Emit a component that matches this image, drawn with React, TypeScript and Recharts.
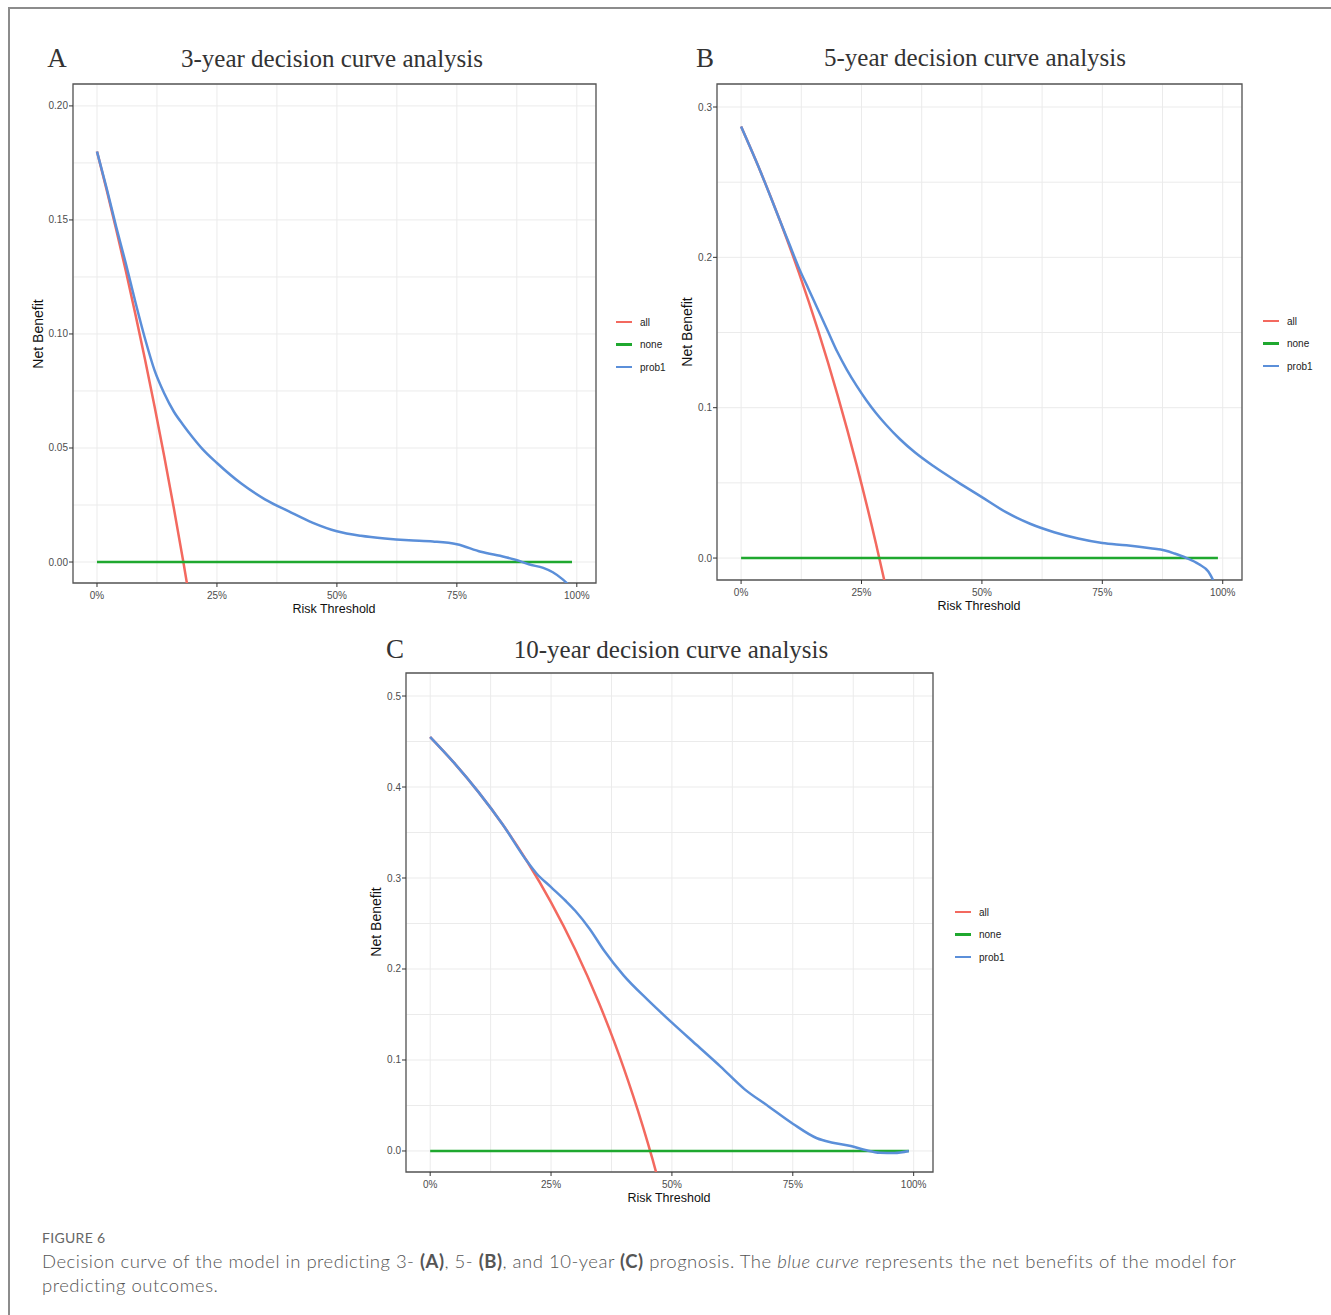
import { LineChart, Line, XAxis, YAxis, CartesianGrid, ReferenceArea } from "recharts";

// shared axis ticks (risk threshold, as fraction)
const xMajor = [0, 0.25, 0.5, 0.75, 1];
const xMinor = [0.125, 0.375, 0.625, 0.875];
const xLabels = ["0%", "25%", "50%", "75%", "100%"];

// "none" strategy
const noneX = [0, 0.99];
const noneY = [0, 0];

// Panel A - 3-year
const aAllX = [0, 0.02, 0.04, 0.06, 0.08, 0.1, 0.12, 0.14, 0.16, 0.18, 0.2];
const aAllY = [0.18, 0.1633, 0.1458, 0.1277, 0.1087, 0.0889, 0.0682, 0.0465, 0.0238, 0.0, -0.025];
const aProbX = [0, 0.02, 0.04, 0.06, 0.08, 0.1, 0.12, 0.14, 0.16, 0.18, 0.2, 0.22, 0.25, 0.3, 0.35, 0.4, 0.45, 0.5, 0.55, 0.6, 0.65, 0.7, 0.75, 0.8, 0.85, 0.88, 0.9, 0.93, 0.95, 0.97, 0.99];
const aProbY = [0.18, 0.164, 0.147, 0.131, 0.114, 0.098, 0.084, 0.074, 0.066, 0.06, 0.0545, 0.0495, 0.0434, 0.0345, 0.0275, 0.0222, 0.0172, 0.0135, 0.0115, 0.0103, 0.0095, 0.009, 0.0078, 0.0045, 0.0022, 0.0005, -0.001, -0.0026, -0.0045, -0.0075, -0.0115];
const aYMajor = [0, 0.05, 0.1, 0.15, 0.2];
const aYMinor = [0.025, 0.075, 0.125, 0.175];
const aYLabels = ["0.00", "0.05", "0.10", "0.15", "0.20"];

// Panel B - 5-year
const bAllX = [0, 0.04, 0.08, 0.12, 0.16, 0.2, 0.24, 0.28, 0.3];
const bAllY = [0.287, 0.2573, 0.225, 0.1898, 0.1512, 0.1087, 0.0618, 0.0097, -0.0186];
const bProbX = [0, 0.04, 0.08, 0.1, 0.12, 0.14, 0.16, 0.18, 0.2, 0.22, 0.24, 0.26, 0.28, 0.3, 0.33, 0.36, 0.4, 0.45, 0.5, 0.55, 0.6, 0.65, 0.7, 0.75, 0.8, 0.85, 0.88, 0.9, 0.925, 0.95, 0.97, 0.98];
const bProbY = [0.287, 0.2573, 0.225, 0.209, 0.193, 0.179, 0.165, 0.151, 0.137, 0.125, 0.1145, 0.105, 0.0965, 0.089, 0.079, 0.0705, 0.061, 0.0505, 0.0405, 0.0305, 0.0228, 0.0172, 0.013, 0.01, 0.0085, 0.0065, 0.005, 0.003, 0.0, -0.004, -0.009, -0.0146];
const bYMajor = [0, 0.1, 0.2, 0.3];
const bYMinor = [0.05, 0.15, 0.25];
const bYLabels = ["0.0", "0.1", "0.2", "0.3"];

// Panel C - 10-year
const cAllX = [0, 0.05, 0.1, 0.15, 0.2, 0.25, 0.3, 0.35, 0.38, 0.4, 0.42, 0.44, 0.46, 0.48];
const cAllY = [0.455, 0.4263, 0.3944, 0.3588, 0.3187, 0.2733, 0.2214, 0.1615, 0.121, 0.0917, 0.0603, 0.0268, -0.0093, -0.0481];
const cProbX = [0, 0.05, 0.1, 0.15, 0.2, 0.22, 0.25, 0.28, 0.3, 0.33, 0.36, 0.4, 0.45, 0.5, 0.55, 0.6, 0.65, 0.7, 0.75, 0.8, 0.83, 0.87, 0.9, 0.93, 0.96, 0.99];
const cProbY = [0.455, 0.4263, 0.3944, 0.3588, 0.3187, 0.305, 0.29, 0.275, 0.264, 0.244, 0.22, 0.193, 0.166, 0.141, 0.117, 0.093, 0.068, 0.049, 0.03, 0.014, 0.0094, 0.0055, 0.001, -0.002, -0.0022, 0.0];
const cYMajor = [0, 0.1, 0.2, 0.3, 0.4, 0.5];
const cYMinor = [0.05, 0.15, 0.25, 0.35, 0.45];
const cYLabels = ["0.0", "0.1", "0.2", "0.3", "0.4", "0.5"];

const seriesNames = ["all", "none", "prob1"];
const colors = ["#f3695f", "#1fa82f", "#5b8fd9"];

const zip = (xs: number[], ys: number[]) => xs.map((x, i) => ({ x, y: ys[i] }));

const tickColor = "#4d4d4d";
const sans = "'Liberation Sans', Arial, sans-serif";
const serif = "'Liberation Serif', 'Times New Roman', serif";
const captionFont = "Lato, 'Open Sans', sans-serif";

const XTick = (props: any) => {
  const { x, y, payload } = props;
  const idx = xMajor.indexOf(payload.value);
  if (idx < 0) return <g />;
  return (
    <g>
      <line x1={x} x2={x} y1={y - 6} y2={y - 2} stroke="#333" strokeWidth={1} />
      <text x={x} y={y + 10} textAnchor="middle" fontSize={10} fill={tickColor} fontFamily={sans}>
        {xLabels[idx]}
      </text>
    </g>
  );
};

const makeYTick = (majors: number[], labels: string[]) => (props: any) => {
  const { x, y, payload } = props;
  const idx = majors.indexOf(payload.value);
  if (idx < 0) return <g />;
  return (
    <g>
      <line x1={x + 1} x2={x + 5} y1={y} y2={y} stroke="#333" strokeWidth={1} />
      <text x={x} y={y + 3.5} textAnchor="end" fontSize={10} fill={tickColor} fontFamily={sans}>
        {labels[idx]}
      </text>
    </g>
  );
};

const Panel = ({ cfg }: { cfg: any }) => {
  const yTicks = [...cfg.yMajor, ...cfg.yMinor].sort((a: number, b: number) => a - b);
  const xTicks = [...xMajor, ...xMinor].sort((a, b) => a - b);
  const xDom = [-0.05, 1.04];
  return (
    <div style={{ position: "absolute", left: cfg.left, top: cfg.top }}>
      <LineChart width={590} height={560} margin={cfg.margin}>
        <CartesianGrid stroke="#ebebeb" strokeWidth={1} />
        <XAxis
          type="number"
          dataKey="x"
          domain={xDom}
          allowDataOverflow
          ticks={xTicks}
          interval={0}
          tick={XTick}
          tickLine={false}
          tickSize={4}
          tickMargin={2}
          axisLine={false}
          height={20}
        />
        <YAxis
          type="number"
          dataKey="y"
          domain={cfg.yDom}
          allowDataOverflow
          ticks={yTicks}
          interval={0}
          tick={makeYTick(cfg.yMajor, cfg.yLabels)}
          tickLine={false}
          tickSize={4}
          tickMargin={1}
          axisLine={false}
          width={cfg.yw}
        />
        <Line data={cfg.all} dataKey="y" type="monotone" stroke={colors[0]} strokeWidth={2.5} dot={false} isAnimationActive={false} />
        <Line data={zip(noneX, noneY)} dataKey="y" type="linear" stroke={colors[1]} strokeWidth={2.5} dot={false} isAnimationActive={false} />
        <Line data={cfg.prob} dataKey="y" type="monotone" stroke={colors[2]} strokeWidth={2.5} dot={false} isAnimationActive={false} />
        <ReferenceArea x1={xDom[0]} x2={xDom[1]} y1={cfg.yDom[0]} y2={cfg.yDom[1]} fill="none" stroke="#555" strokeWidth={1.3} />
      </LineChart>
    </div>
  );
};

const abs = (x: number, y: number, extra: any = {}) => ({
  position: "absolute" as const,
  left: x,
  top: y,
  transform: "translate(-50%, -50%)",
  whiteSpace: "nowrap" as const,
  ...extra,
});

const Legend = ({ x, y }: { x: number; y: number }) => (
  <>
    {seriesNames.map((n, i) => (
      <div key={n} style={{ position: "absolute", left: x, top: y + i * 22.5 - 7, height: 14, display: "flex", alignItems: "center" }}>
        <span style={{ display: "inline-block", width: 16, height: 2.5, background: colors[i], marginRight: 8 }} />
        <span style={{ fontFamily: sans, fontSize: 10, color: "#222" }}>{n}</span>
      </div>
    ))}
  </>
);

const panels = [
  {
    key: "A",
    left: 20,
    top: 70,
    yw: 53,
    margin: { top: 14, right: 14, bottom: 27, left: 0 },
    yDom: [-0.0092, 0.2096],
    yMajor: aYMajor,
    yMinor: aYMinor,
    yLabels: aYLabels,
    all: zip(aAllX, aAllY),
    prob: zip(aProbX, aProbY),
    letter: [57, 58],
    title: ["3-year decision curve analysis", 332, 59],
    ylab: [38, 334],
    xlab: [334, 609],
    legend: [616, 322],
  },
  {
    key: "B",
    left: 667,
    top: 70,
    yw: 50,
    margin: { top: 14, right: 15, bottom: 30, left: 0 },
    yDom: [-0.0146, 0.3153],
    yMajor: bYMajor,
    yMinor: bYMinor,
    yLabels: bYLabels,
    all: zip(bAllX, bAllY),
    prob: zip(bProbX, bProbY),
    letter: [705, 58],
    title: ["5-year decision curve analysis", 975, 58],
    ylab: [687, 332],
    xlab: [979, 606],
    legend: [1263, 321],
  },
  {
    key: "C",
    left: 356,
    top: 659,
    yw: 50,
    margin: { top: 14, right: 13, bottom: 27, left: 0 },
    yDom: [-0.0231, 0.5253],
    yMajor: cYMajor,
    yMinor: cYMinor,
    yLabels: cYLabels,
    all: zip(cAllX, cAllY),
    prob: zip(cProbX, cProbY),
    letter: [395, 649],
    title: ["10-year decision curve analysis", 671, 650],
    ylab: [376, 922],
    xlab: [669, 1198],
    legend: [955, 912],
  },
];

export default function App() {
  return (
    <div style={{ position: "absolute", left: 0, top: 0, width: 1331, height: 1315, background: "#fff", overflow: "hidden" }}>
      <div style={{ position: "absolute", left: 8, top: 7, width: 1323, height: 1310, borderTop: "2px solid #8c8c8c", borderLeft: "2px solid #8c8c8c" }} />
      {panels.map((p) => (
        <div key={p.key}>
          <Panel cfg={p} />
          <div style={abs(p.letter[0] as number, p.letter[1] as number, { fontFamily: serif, fontSize: 27, color: "#333" })}>{p.key}</div>
          <div style={abs(p.title[1] as number, p.title[2] as number, { fontFamily: serif, fontSize: 25, color: "#333" })}>{p.title[0]}</div>
          <div style={abs(p.ylab[0] as number, p.ylab[1] as number, { fontFamily: sans, fontSize: 14, color: "#111", transform: "translate(-50%, -50%) rotate(-90deg)" })}>Net Benefit</div>
          <div style={abs(p.xlab[0] as number, p.xlab[1] as number, { fontFamily: sans, fontSize: 12.5, color: "#111" })}>Risk Threshold</div>
          <Legend x={p.legend[0] as number} y={p.legend[1] as number} />
        </div>
      ))}
      <div style={{ position: "absolute", left: 42, top: 1229, fontFamily: captionFont, fontSize: 14, color: "#666", letterSpacing: 0.3 }}>FIGURE 6</div>
      <div style={{ position: "absolute", left: 42, top: 1249, width: 1215, fontFamily: captionFont, fontWeight: 300, fontSize: 18.5, letterSpacing: 0.5, lineHeight: "24px", color: "#555" }}>
        <span>Decision curve of the model in predicting 3- </span>
        <b style={{ fontWeight: 700 }}>(A)</b>
        <span>, 5- </span>
        <b style={{ fontWeight: 700 }}>(B)</b>
        <span>, and 10-year </span>
        <b style={{ fontWeight: 700 }}>(C)</b>
        <span> prognosis. The </span>
        <i>blue curve</i>
        <span> represents the net benefits of the model for predicting outcomes.</span>
      </div>
    </div>
  );
}
